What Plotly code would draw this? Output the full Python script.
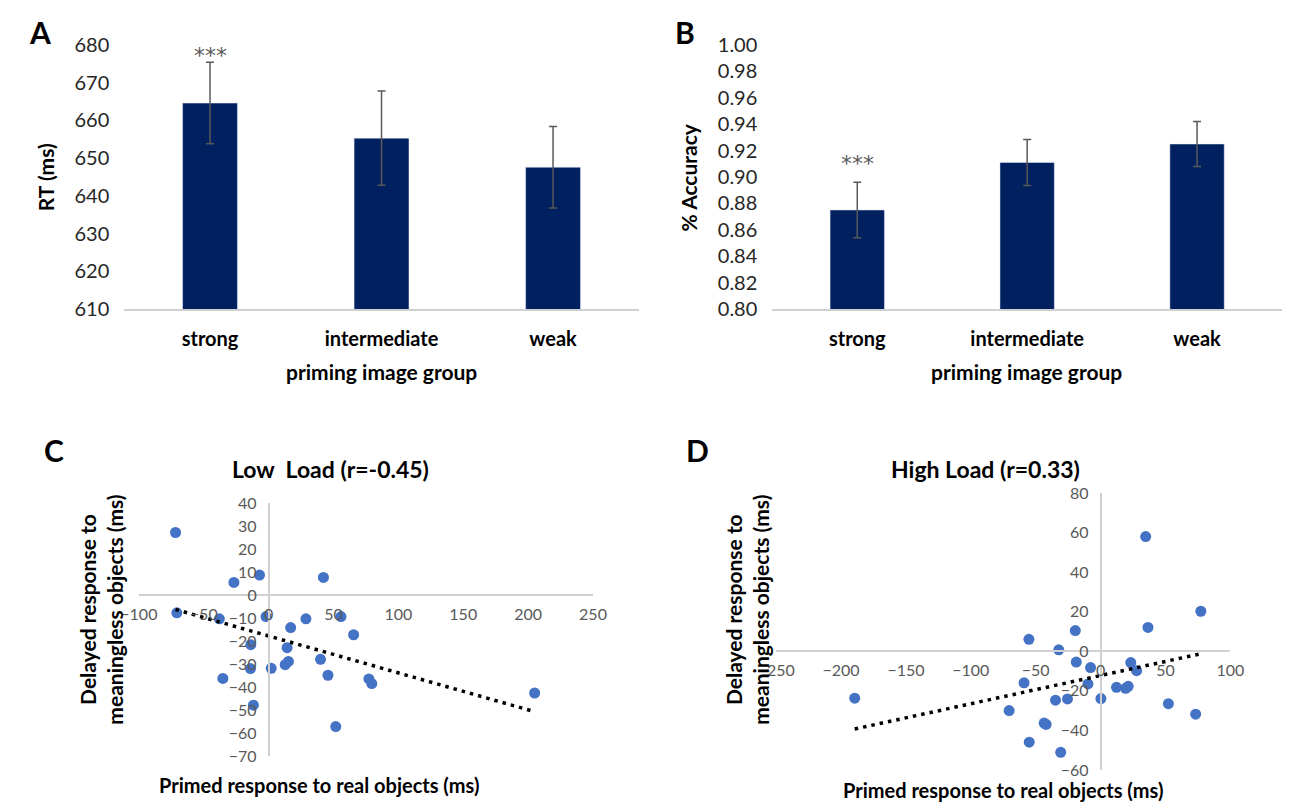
import numpy as np
import plotly.graph_objects as go

W, H = 1296, 810

# ---------------- data ----------------
groups = ["strong", "intermediate", "weak"]
rt_mean = [664.6, 655.3, 647.6]
rt_err = [10.8, 12.5, 10.8]
acc_mean = [0.875, 0.911, 0.925]
acc_err = [0.021, 0.0175, 0.017]
sig_labels = ["***", "", ""]

low_x = [-71.75, -70.75, -26.75, -7.0, 42.25, -38.0, -2.0, 28.75, 55.75, 17.0, 65.5, -13.75, 14.25,
         40.0, 15.25, 12.75, -14.0, 2.0, -35.25, 45.75, 77.25, 79.5, -11.75, 51.75, 205.0]
low_y = [27.2, -7.7, 5.5, 8.7, 7.7, -10.3, -9.3, -10.3, -9.3, -14.1, -17.2, -21.5, -22.8,
         -27.9, -28.8, -30.2, -31.9, -31.8, -36.2, -34.8, -36.4, -38.4, -47.8, -57.1, -42.5]

high_x = [34.75, 77.25, 36.5, -19.5, -55.25, -32.25, -18.75, -7.75, 23.25, 27.75, -59.0, -9.75, 12.25,
          19.25, 21.25, -189.5, -34.75, -25.5, 0.25, 52.25, -70.5, 73.25, -43.5, -42.0, -55.0, -30.75]
high_y = [58.1, 20.3, 12.1, 10.5, 6.1, 0.8, -5.4, -8.2, -5.7, -9.8, -15.9, -16.5, -18.2,
          -18.7, -17.7, -23.7, -24.7, -24.1, -23.9, -26.5, -30.0, -31.8, -36.3, -37.0, -46.0, -51.1]

rt_ticks = [610, 620, 630, 640, 650, 660, 670, 680]
acc_ticks = [0.80, 0.82, 0.84, 0.86, 0.88, 0.90, 0.92, 0.94, 0.96, 0.98, 1.00]
low_xticks = [-100, -50, 0, 50, 100, 150, 200, 250]
low_yticks = [40, 30, 20, 10, 0, -10, -20, -30, -40, -50, -60, -70]
high_xticks = [-250, -200, -150, -100, -50, 0, 50, 100]
high_yticks = [80, 60, 40, 20, 0, -20, -40, -60]

# ---------------- styling ----------------
FONT = "Lato"
BAR = "#002060"
DOT = "#4472C4"
GRAY = "#595959"
AXIS = "#D0D0D0"


def px(x):
    return x / W


def py(y):
    return 1 - y / H


# plot-area domains (pixels)
dA = dict(x=(108, 636), y=(305, 33))
dB = dict(x=(773, 1296), y=(305, 33))
dC = dict(x=(123, 589), y=(766, 505))
dD = dict(x=(777, 1243), y=(780, 495))


def dom(d):
    return [px(d["x"][0]), px(d["x"][1])], [py(d["y"][0]), py(d["y"][1])]


fig = go.Figure()

# Bar panels
fig.add_trace(go.Bar(x=groups, y=rt_mean, marker_color=BAR, xaxis="x", yaxis="y",
                     error_y=dict(type="data", array=rt_err, color=GRAY, thickness=1.5, width=4),
                     showlegend=False))
fig.add_trace(go.Bar(x=groups, y=acc_mean, marker_color=BAR, xaxis="x2", yaxis="y2",
                     error_y=dict(type="data", array=acc_err, color=GRAY, thickness=1.5, width=4),
                     showlegend=False))

# Scatter panels with linear trend lines
for xs, ys, xa, ya in [(low_x, low_y, "x3", "y3"), (high_x, high_y, "x4", "y4")]:
    fig.add_trace(go.Scatter(x=xs, y=ys, mode="markers", xaxis=xa, yaxis=ya,
                             marker=dict(color=DOT, size=11), showlegend=False))
    k, b = np.polyfit(xs, ys, 1)
    xl = np.array([min(xs), max(xs)])
    fig.add_trace(go.Scatter(x=xl, y=k * xl + b, mode="lines", xaxis=xa, yaxis=ya,
                             line=dict(color="black", width=3.5, dash="3.5px,5px"), showlegend=False))

xA, yA = dom(dA)
xB, yB = dom(dB)
xC, yC = dom(dC)
xD, yD = dom(dD)

bar_x = dict(type="category", showline=True, linecolor=AXIS, linewidth=1.5, ticks="",
             showgrid=False, zeroline=False, ticklabelstandoff=11,
             tickfont=dict(family=FONT, size=20, color="black", weight="bold"))
bar_y = dict(showline=False, showgrid=False, zeroline=False, ticks="", ticklabelstandoff=14,
             tickfont=dict(family=FONT, size=20, color="#262626"))


def cross_pos(rng, d):
    return d[0] + (0 - rng[0]) / (rng[1] - rng[0]) * (d[1] - d[0])


low_xr, low_yr = [-100, 250], [-70, 40]
high_xr, high_yr = [-250, 100], [-60, 80]

sc_tick = dict(family=FONT, size=16, color=GRAY)
sc_common = dict(showline=True, linecolor=AXIS, linewidth=1.5, ticks="", showgrid=False,
                 zeroline=False, tickfont=sc_tick, anchor="free")

fig.update_layout(
    width=W, height=H, margin=dict(l=0, r=0, t=0, b=0),
    paper_bgcolor="white", plot_bgcolor="white", bargap=0.68,
    xaxis=dict(domain=xA, anchor="y", **bar_x),
    yaxis=dict(domain=yA, anchor="x", range=[610, 680], tickvals=rt_ticks, **bar_y),
    xaxis2=dict(domain=xB, anchor="y2", **bar_x),
    yaxis2=dict(domain=yB, anchor="x2", range=[0.80, 1.00], tickvals=acc_ticks, tickformat=".2f", **bar_y),
    xaxis3=dict(domain=xC, range=low_xr, tickvals=low_xticks, position=cross_pos(low_yr, yC),
                ticklabelstandoff=5, **sc_common),
    yaxis3=dict(domain=yC, range=low_yr, tickvals=low_yticks, position=cross_pos(low_xr, xC),
                ticklabelstandoff=8, **sc_common),
    xaxis4=dict(domain=xD, range=high_xr, tickvals=high_xticks, position=cross_pos(high_yr, yD),
                ticklabelstandoff=5, **sc_common),
    yaxis4=dict(domain=yD, range=high_yr, tickvals=high_yticks, position=cross_pos(high_xr, xD),
                ticklabelstandoff=8, **sc_common),
)

ann = []


def text(x, y, t, size, angle=0, color="black", bold=True):
    ann.append(dict(x=px(x), y=py(y), xref="paper", yref="paper", text=t, showarrow=False,
                    textangle=angle, xanchor="center", yanchor="middle",
                    font=dict(family=FONT, size=size, color=color, weight="bold" if bold else "normal")))


# panel letters
text(22, 20, "A", 30)
text(683, 20, "B", 30)
text(36, 450, "C", 30)
text(696, 450, "D", 30)
# bar axis titles
text(28, 169, "RT (ms)", 21, angle=-90)
text(372, 369, "priming image group", 21)
text(688, 169, "% Accuracy", 21, angle=-90)
text(1034, 369, "priming image group", 21)
# scatter titles
text(320, 470, "Low \u00a0Load (r=-0.45)", 23)
text(992, 470, "High Load (r=0.33)", 23)
text(84, 615, "Delayed response to<br>meaningless objects (ms)", 21, angle=-90)
text(747, 615, "Delayed response to<br>meaningless objects (ms)", 21, angle=-90)
text(308, 796, "Primed response to real objects (ms)", 20)
text(1010, 801, "Primed response to real objects (ms)", 20)

# significance markers above error bars
for xa, ya, means, errs, shift in [("x", "y", rt_mean, rt_err, -8), ("x2", "y2", acc_mean, acc_err, 4)]:
    for g, m, e, s in zip(groups, means, errs, sig_labels):
        if s:
            ann.append(dict(x=g, y=m + e, xref=xa, yref=ya, text=s, showarrow=False,
                            yanchor="bottom", yshift=shift,
                            font=dict(family="DejaVu Sans", size=22, color=GRAY)))

fig.update_layout(annotations=ann)
fig.write_html("out.html", config={"displayModeBar": False},
               post_script="document.body.style.margin='0';")
